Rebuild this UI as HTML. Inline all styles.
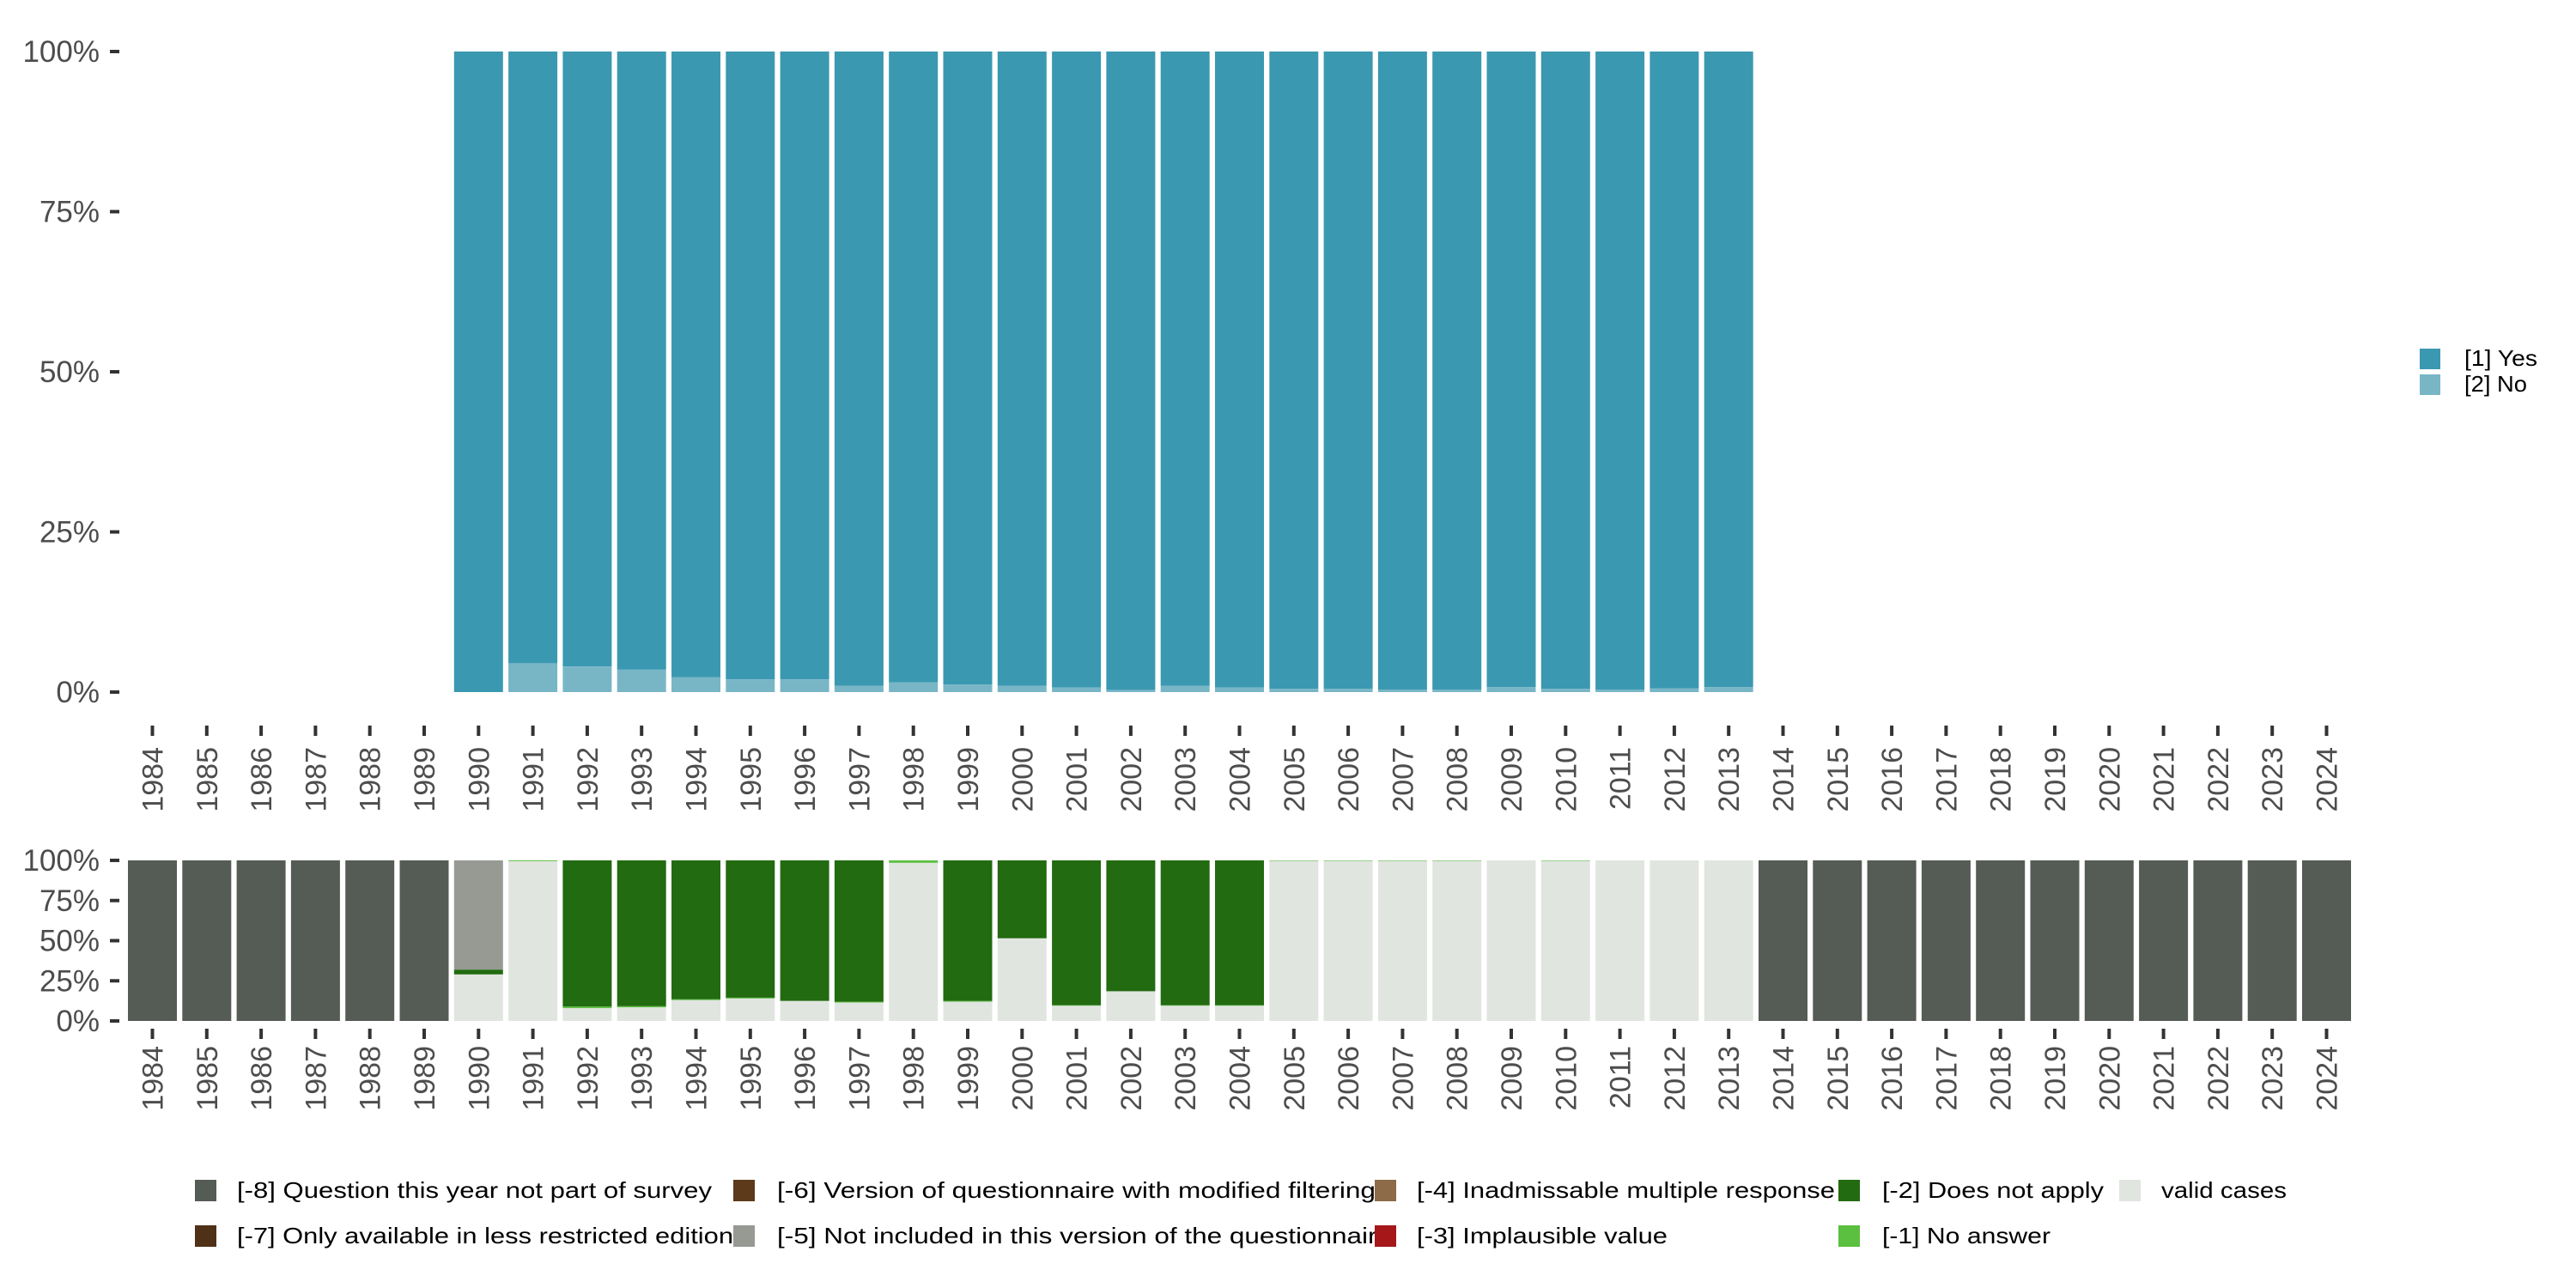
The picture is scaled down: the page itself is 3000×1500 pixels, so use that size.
<!DOCTYPE html>
<html><head><meta charset="utf-8"><style>
html,body{margin:0;padding:0;background:#fff;}
svg{display:block;font-family:"Liberation Sans",sans-serif;}
</style></head><body>
<svg id="chart" width="3000" height="1500" viewBox="0 0 3000 1500" xmlns="http://www.w3.org/2000/svg"></svg>
<script>
const years = [];
for (let y = 1984; y <= 2024; y++) years.push(y);
const topYears = [1990,1991,1992,1993,1994,1995,1996,1997,1998,1999,2000,2001,2002,2003,2004,2005,2006,2007,2008,2009,2010,2011,2012,2013];
const noShare = [0,4.5,4,3.5,2.3,2,2,1,1.5,1.2,1,0.7,0.3,1,0.7,0.5,0.5,0.4,0.4,0.8,0.5,0.4,0.6,0.8];
const validShare = [0,0,0,0,0,0,29,99.5,8,8.5,13,14,12.5,11.5,98.5,12,51.5,9.5,18.5,9.5,9.5,99.7,99.7,99.7,99.7,100,99.7,100,100,100,0,0,0,0,0,0,0,0,0,0,0];
const noAnswerShare = [0,0,0,0,0,0,0,0.5,1,0.7,0.5,0.5,0,0.5,1.5,0.5,0,0.3,0,0.3,0.3,0.3,0.3,0.3,0.3,0,0.3,0,0,0,0,0,0,0,0,0,0,0,0,0,0];
const notApplyShare = [0,0,0,0,0,0,3,0,91,90.8,86.5,85.5,87.5,88,0,87.5,48.5,90.2,81.5,90.2,90.2,0,0,0,0,0,0,0,0,0,0,0,0,0,0,0,0,0,0,0,0];
const notIncludedShare = [0,0,0,0,0,0,68,0,0,0,0,0,0,0,0,0,0,0,0,0,0,0,0,0,0,0,0,0,0,0,0,0,0,0,0,0,0,0,0,0,0];
const notSurveyShare = [100,100,100,100,100,100,0,0,0,0,0,0,0,0,0,0,0,0,0,0,0,0,0,0,0,0,0,0,0,0,100,100,100,100,100,100,100,100,100,100,100];
const yTicks = [0,25,50,75,100];
const yTickLabels = ["0%","25%","50%","75%","100%"];

const NS = "http://www.w3.org/2000/svg";
const svg = document.getElementById("chart");
function mk(tag, attrs, parent) {
  const e = document.createElementNS(NS, tag);
  for (const k in attrs) e.setAttribute(k, attrs[k]);
  (parent || svg).appendChild(e);
  return e;
}
const X0 = 149, STEP = 63.3, BW = 57;
function xBand(yr) { return X0 + (yr - 1984) * STEP; }
const topY = v => 806 - v / 100 * 746;
const botY = v => 1189 - v / 100 * 187;

const gTop = mk("g", {});


topYears.forEach((yr, i) => {
  const x = xBand(yr);
  const no = noShare[i];
  const r1 = mk("rect", {x: x, y: topY(100), width: BW, height: topY(no) - topY(100), fill: "#3b98b1"}, gTop);
  
  
  if (no > 0) {
    const r2 = mk("rect", {x: x, y: topY(no), width: BW, height: topY(0) - topY(no), fill: "#78b6c6"}, gTop);
    
    
  }
});
function yAxis(scale, name) {
  yTicks.forEach((v, i) => {
    const yy = scale(v);
    const t = mk("text", {x: 116, y: yy + 12, "text-anchor": "end", "font-size": 35, fill: "#4d4d4d"});
    t.textContent = yTickLabels[i];
    
    
    mk("rect", {x: 128, y: yy - 2, width: 11, height: 4, fill: "#333"});
  });
}
function xAxis(tickTop, labelTop, name) {
  years.forEach(yr => {
    const cx = xBand(yr) + BW / 2;
    mk("rect", {x: cx - 2, y: tickTop, width: 4, height: 12, fill: "#333"});
    const t = mk("text", {x: 0, y: 0, "text-anchor": "end", "font-size": 34, fill: "#4d4d4d",
      transform: "translate(" + (cx + 12) + "," + labelTop + ") rotate(-90)"});
    t.textContent = yr;
    
    
  });
}
yAxis(topY, "top-y");
xAxis(845, 870, "top-x");

const gBot = mk("g", {});


const stackSeries = [
  {vals: validShare, color: "#e1e5e0", key: "valid"},
  {vals: noAnswerShare, color: "#5bbf40", key: "no-answer"},
  {vals: notApplyShare, color: "#226b10", key: "does-not-apply"},
  {vals: notIncludedShare, color: "#969a93", key: "not-included"},
  {vals: notSurveyShare, color: "#555b55", key: "not-in-survey"}
];
years.forEach((yr, i) => {
  let cum = 0;
  const x = xBand(yr);
  stackSeries.forEach(s => {
    const v = s.vals[i];
    if (v > 0) {
      const top = Math.min(cum + v, 100);
      const r = mk("rect", {x: x, y: botY(top), width: BW, height: botY(cum) - botY(top), fill: s.color}, gBot);
      
      
      cum = top;
    }
  });
});
yAxis(botY, "bottom-y");
xAxis(1198, 1218, "bottom-x");

const legTop = [["[1] Yes", "#3b98b1", 406, 85], ["[2] No", "#78b6c6", 436, 73]];
legTop.forEach(l => {
  const g = mk("g", {});
  
  
  mk("rect", {x: 2818, y: l[2], width: 24, height: 24, fill: l[1]}, g);
  const t = mk("text", {x: 2870, y: l[2] + 20, "font-size": 26, fill: "#000", textLength: l[3], lengthAdjust: "spacingAndGlyphs"}, g);
  t.textContent = l[0];
});
const legBot = [
  ["[-8] Question this year not part of survey", "#555b55", 227, 276, 1374, 553],
  ["[-7] Only available in less restricted edition", "#4f3117", 227, 276, 1427, 578],
  ["[-6] Version of questionnaire with modified filtering", "#5c3a1a", 854, 905, 1374, 697],
  ["[-5] Not included in this version of the questionnaire", "#969a93", 854, 905, 1427, 716],
  ["[-4] Inadmissable multiple response", "#8d6b48", 1601, 1650, 1374, 487],
  ["[-3] Implausible value", "#a6171a", 1601, 1650, 1427, 292],
  ["[-2] Does not apply", "#226b10", 2141, 2192, 1374, 258],
  ["[-1] No answer", "#5bbf40", 2141, 2192, 1427, 196],
  ["valid cases", "#e1e5e0", 2468, 2517, 1374, 146]
];
legBot.forEach(l => {
  const g = mk("g", {});
  
  
  mk("rect", {x: l[2], y: l[4], width: 25, height: 25, fill: l[1]}, g);
  const t = mk("text", {x: l[3], y: l[4] + 21, "font-size": 26, fill: "#000", textLength: l[5], lengthAdjust: "spacingAndGlyphs"}, g);
  t.textContent = l[0];
});
</script>
</body></html>
